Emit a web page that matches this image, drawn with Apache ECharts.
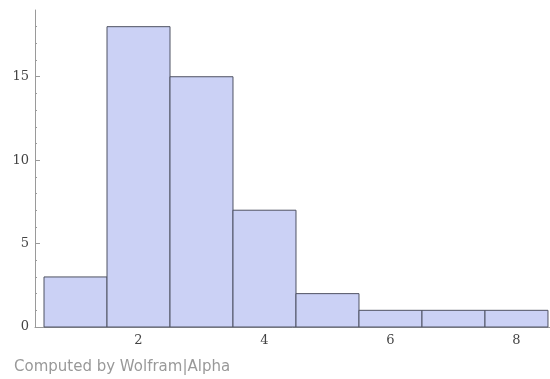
<!DOCTYPE html>
<html><head><meta charset="utf-8">
<script src="https://cdn.jsdelivr.net/npm/echarts@6/dist/echarts.min.js"></script>
<style>html,body{margin:0;padding:0;background:#fff}#c{width:550px;height:379px}</style>
</head><body><div id="c"></div>
<script>
const binStarts = [0.5, 1.5, 2.5, 3.5, 4.5, 5.5, 6.5, 7.5];
const binEnds = [1.5, 2.5, 3.5, 4.5, 5.5, 6.5, 7.5, 8.5];
const counts = [3, 18, 15, 7, 2, 1, 1, 1];
const xTickValues = [1, 2, 3, 4, 5, 6, 7, 8];
const xLabelValues = [2, 4, 6, 8];
const yLabelValues = [0, 5, 10, 15];
const footer = 'Computed by Wolfram|Alpha';

const chart = echarts.init(document.getElementById('c'), null, {renderer: 'canvas'});
const axisColor = '#9a9a9a';
const labelStyle = {color: '#444', fontFamily: 'DejaVu Serif', fontSize: 13};
chart.setOption({
  animation: false,
  grid: {left: 35, top: 10, right: 0, bottom: 52},
  xAxis: {
    type: 'value', min: 0.357, max: 8.532,
    axisLine: {show: true, onZero: false, lineStyle: {color: axisColor, width: 1}},
    axisTick: {show: true, inside: true, length: 4, customValues: xTickValues, lineStyle: {color: axisColor}},
    axisLabel: Object.assign({customValues: xLabelValues, margin: 7}, labelStyle),
    splitLine: {show: false}
  },
  yAxis: {
    type: 'value', min: 0, max: 19, interval: 5,
    axisLine: {show: true, lineStyle: {color: axisColor, width: 1}},
    axisTick: {show: true, inside: true, length: 5, customValues: yLabelValues, lineStyle: {color: axisColor}},
    minorTick: {show: true, splitNumber: 5, length: 2, lineStyle: {color: axisColor}},
    axisLabel: Object.assign({customValues: yLabelValues, margin: 6}, labelStyle),
    splitLine: {show: false}
  },
  series: [{
    type: 'custom',
    data: binStarts.map((s, i) => [s, binEnds[i], counts[i]]),
    encode: {x: [0, 1], y: 2},
    renderItem: function (params, api) {
      const p0 = api.coord([api.value(0), api.value(2)]);
      const p1 = api.coord([api.value(1), 0]);
      return {
        type: 'rect',
        shape: {x: p0[0], y: p0[1], width: p1[0] - p0[0], height: p1[1] - p0[1]},
        style: {fill: '#cbd1f5', stroke: '#4f5263', lineWidth: 1}
      };
    }
  }],
  graphic: [{
    type: 'text', left: 14, top: 360,
    style: {text: footer, fill: '#999', font: '15px "DejaVu Sans"'}
  }]
});
</script></body></html>
